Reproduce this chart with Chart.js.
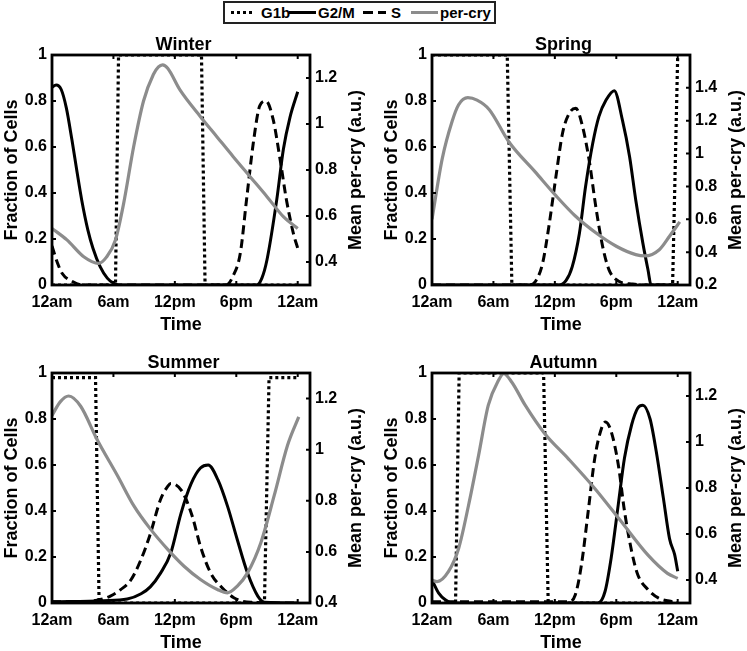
<!DOCTYPE html>
<html>
<head>
<meta charset="utf-8">
<script src="https://cdn.jsdelivr.net/npm/chart.js@4.4.1/dist/chart.umd.min.js"></script>
<style>
  html, body { margin:0; padding:0; background:#fff; }
  body { width:747px; height:651px; overflow:hidden; position:relative; font-family:"Liberation Sans", Arial, sans-serif; }
  canvas { position:absolute; }
  #legend { position:absolute; left:223px; top:1px; width:269px; height:19px; border:2px solid #222; background:#fff; }
  #legend .s { position:absolute; top:8px; height:3px; }
  #legend .t { position:absolute; top:1px; font-weight:bold; font-size:15px; line-height:17px; color:#000; white-space:nowrap; }
</style>
</head>
<body>
<div id="legend">
  <div class="s" style="left:6px;width:22px;background:repeating-linear-gradient(90deg,#000 0 3px,transparent 3px 6px);"></div>
  <div class="t" style="left:36px;">G1b</div>
  <div class="s" style="left:64px;width:27px;background:#000;"></div>
  <div class="t" style="left:93px;">G2/M</div>
  <div class="s" style="left:138px;width:23px;background:repeating-linear-gradient(90deg,#000 0 10px,transparent 10px 15px);"></div>
  <div class="t" style="left:166px;">S</div>
  <div class="s" style="left:186px;width:27px;background:#8c8c8c;"></div>
  <div class="t" style="left:215px;">per-cry</div>
</div>
<canvas id="winter" width="367" height="304" style="left:0px;top:30px;"></canvas>
<canvas id="spring" width="367" height="304" style="left:380px;top:30px;"></canvas>
<canvas id="summer" width="367" height="304" style="left:0px;top:348px;"></canvas>
<canvas id="autumn" width="367" height="304" style="left:380px;top:348px;"></canvas>
<script>
// ---- axis ticks / labels ----
const timeTicks = [0, 6, 12, 18, 24];
const timeLabels = ['12am', '6am', '12pm', '6pm', '12am'];
const fractionTicks = [0, 0.2, 0.4, 0.6, 0.8, 1];
const winterRightTicks = [0.4, 0.6, 0.8, 1, 1.2];
const springRightTicks = [0.2, 0.4, 0.6, 0.8, 1, 1.2, 1.4];
const summerRightTicks = [0.4, 0.6, 0.8, 1, 1.2];
const autumnRightTicks = [0.4, 0.6, 0.8, 1, 1.2];
const winterRightRange = [0.3, 1.3];
const springRightRange = [0.2, 1.6];
const summerRightRange = [0.4, 1.3];
const autumnRightRange = [0.3, 1.3];

// ---- data: [hour, value] ----
const winterG1b = [[0,0],[6.2,0],[6.5,1],[14.6,1],[14.95,0],[24,0]];
const winterG2M = [[0,0.86],[0.4,0.87],[0.9,0.85],[1.4,0.77],[1.95,0.63],[2.45,0.49],[2.9,0.37],[3.5,0.24],[4,0.16],[4.7,0.08],[5.4,0.03],[6,0.008],[6.5,0],[20,0],[20.5,0.03],[21,0.11],[21.95,0.37],[22.6,0.59],[23.25,0.73],[24,0.84]];
const winterS = [[0,0.17],[0.5,0.1],[1,0.05],[2,0.015],[3,0],[17,0],[17.7,0.04],[18.4,0.14],[19,0.37],[19.7,0.63],[20.3,0.78],[20.9,0.8],[21.6,0.72],[22.3,0.54],[22.9,0.37],[23.6,0.22],[24,0.16]];
const winterPerCry = [[0,0.546],[1.46,0.496],[3.1,0.423],[4.55,0.394],[5.3,0.42],[6.2,0.496],[7,0.655],[7.97,0.9],[8.94,1.1],[9.9,1.215],[10.4,1.248],[10.8,1.257],[11.3,1.242],[12.5,1.148],[14.5,1.032],[16.1,0.945],[17.7,0.858],[19.35,0.771],[21,0.684],[22.6,0.597],[24,0.546]];

const springG1b = [[0,1],[7.35,1],[7.8,0],[23.5,0],[24,1]];
const springG2M = [[0,0],[12.4,0],[13.1,0.02],[13.7,0.08],[14.4,0.225],[15,0.428],[15.7,0.616],[16.3,0.732],[17,0.804],[17.8,0.845],[18.6,0.717],[19.3,0.558],[19.9,0.37],[20.6,0.181],[21.1,0.065],[21.4,0],[24,0]];
const springS = [[0,0],[9.5,0],[10.1,0.015],[10.8,0.094],[11.4,0.25],[12.1,0.47],[12.75,0.66],[13.4,0.746],[14.05,0.768],[14.7,0.69],[15.36,0.54],[16,0.34],[16.67,0.167],[17.3,0.065],[18.3,0.015],[19.6,0.004],[20.5,0],[24,0]];
const springPerCry = [[0,0.6],[1,0.969],[1.96,1.195],[2.6,1.297],[3.5,1.34],[4.4,1.325],[5.6,1.267],[7.5,1.072],[10.1,0.887],[12.1,0.744],[14,0.62],[16,0.518],[18,0.436],[19.9,0.385],[20.8,0.377],[22.2,0.415],[23.2,0.497],[24.2,0.584]];

const summerG1b = [[0,0.98],[4.25,0.98],[4.6,0],[20.75,0],[21.2,0.98],[24.1,0.98]];
const summerG2M = [[0,0.005],[5,0.01],[7.35,0.017],[8.7,0.04],[9.6,0.07],[10.6,0.13],[11.6,0.217],[12.6,0.39],[13.6,0.52],[14.5,0.587],[15.26,0.6],[16.2,0.536],[17.15,0.42],[18.1,0.275],[19.1,0.13],[20.1,0.03],[20.75,0.003],[24,0]];
const summerS = [[0,0.005],[3,0.005],[4.7,0.015],[5.7,0.03],[6.7,0.058],[7.7,0.1],[8.7,0.19],[9.6,0.3],[10.6,0.45],[11.3,0.507],[11.6,0.52],[12.7,0.486],[13.7,0.377],[14.5,0.246],[15.5,0.13],[16.5,0.072],[17.8,0.022],[19.4,0.003],[24,0]];
const summerPerCry = [[0,1.134],[0.8,1.187],[1.63,1.21],[2.8,1.17],[4.4,1.04],[6.4,0.898],[8,0.78],[9.6,0.69],[11.3,0.61],[12.9,0.544],[14.5,0.492],[16.2,0.452],[17.15,0.44],[18.1,0.466],[19.1,0.518],[20.4,0.636],[21.7,0.82],[23,1.016],[24.1,1.128]];

const autumnG1b = [[0,0],[2.3,0],[2.65,1],[10.9,1],[11.35,0],[24,0]];
const autumnG2M = [[0,0.1],[0.65,0.043],[1.3,0.014],[2,0],[16.2,0],[16.9,0.05],[17.5,0.196],[18.2,0.43],[18.8,0.63],[19.5,0.775],[20.1,0.848],[20.6,0.86],[21.3,0.8],[21.9,0.66],[22.6,0.456],[23.2,0.28],[23.7,0.21],[24,0.138]];
const autumnS = [[0,0.005],[13.3,0.005],[14,0.036],[14.6,0.167],[15.26,0.4],[15.9,0.63],[16.56,0.76],[16.95,0.787],[17.5,0.746],[18.2,0.6],[18.8,0.4],[19.5,0.225],[20.1,0.123],[21.1,0.058],[22.1,0.022],[23.4,0.007],[24,0.005]];
const autumnPerCry = [[0,0.4],[0.5,0.393],[1.6,0.436],[2.6,0.537],[3.57,0.725],[4.55,0.942],[5.5,1.16],[6.5,1.268],[7,1.297],[7.8,1.26],[9.1,1.16],[11,1.037],[13.3,0.928],[15.9,0.798],[18.5,0.653],[21.1,0.508],[23,0.429],[24,0.407]];

const FONT = '"Liberation Sans", Arial, sans-serif';
const GREY = '#8c8c8c';

function pts(pairs) { return pairs.map(([x, y]) => ({ x, y })); }

function makeChart(id, title, g1b, g2m, s, perCry, rightRange, rightTicks) {
  const framePlugin = {
    id: 'frame_' + id,
    afterDatasetsDraw(chart) {
      const { ctx, chartArea: { left, right, top, bottom }, scales } = chart;
      ctx.save();
      ctx.strokeStyle = '#000';
      ctx.lineWidth = 2;
      const tl = 4;
      ctx.beginPath();
      scales.x.ticks.forEach(t => {
        const px = scales.x.getPixelForValue(t.value);
        ctx.moveTo(px, bottom); ctx.lineTo(px, bottom - tl);
        ctx.moveTo(px, top); ctx.lineTo(px, top + tl);
      });
      scales.y.ticks.forEach(t => {
        const py = scales.y.getPixelForValue(t.value);
        ctx.moveTo(left, py); ctx.lineTo(left + tl, py);
      });
      scales.y2.ticks.forEach(t => {
        const py = scales.y2.getPixelForValue(t.value);
        ctx.moveTo(right, py); ctx.lineTo(right - tl, py);
      });
      ctx.stroke();
      ctx.lineWidth = 2.8;
      ctx.strokeRect(left, top, right - left, bottom - top);
      ctx.translate(right + 46, (top + bottom) / 2);
      ctx.rotate(-Math.PI / 2);
      ctx.font = 'bold 18px ' + FONT;
      ctx.fillStyle = '#000';
      ctx.textAlign = 'center';
      ctx.textBaseline = 'middle';
      ctx.fillText('Mean per-cry (a.u.)', 0, 0);
      ctx.restore();
    }
  };

  return new Chart(document.getElementById(id), {
    type: 'line',
    data: {
      datasets: [
        { label: 'per-cry', data: pts(perCry), yAxisID: 'y2', borderColor: GREY, borderWidth: 3.2, cubicInterpolationMode: 'monotone', order: 0 },
        { label: 'G2/M', data: pts(g2m), yAxisID: 'y', borderColor: '#000', borderWidth: 3, cubicInterpolationMode: 'monotone', order: 1 },
        { label: 'S', data: pts(s), yAxisID: 'y', borderColor: '#000', borderWidth: 3, borderDash: [9, 5], cubicInterpolationMode: 'monotone', order: 2 },
        { label: 'G1b', data: pts(g1b), yAxisID: 'y', borderColor: '#000', borderWidth: 3.2, borderDash: [3, 3], tension: 0, order: 3 }
      ]
    },
    options: {
      responsive: false,
      animation: false,
      devicePixelRatio: 1,
      events: [],
      elements: { point: { radius: 0 }, line: { borderCapStyle: 'butt', fill: false } },
      layout: { padding: 0 },
      plugins: {
        legend: { display: false },
        tooltip: { enabled: false },
        title: {
          display: true, text: title, color: '#000',
          font: { family: FONT, size: 18, weight: 'bold', lineHeight: 1 },
          padding: { top: 6, bottom: 1 }
        }
      },
      scales: {
        x: {
          type: 'linear', position: 'bottom', min: 0, max: 25.2,
          afterBuildTicks: sc => { sc.ticks = timeTicks.map(v => ({ value: v })); },
          afterFit: sc => { sc.height = 49; },
          grid: { display: false, drawTicks: false },
          border: { display: false },
          ticks: {
            autoSkip: false, maxRotation: 0, padding: 8, color: '#000',
            font: { family: FONT, size: 16, weight: 'bold' },
            callback: v => timeLabels[timeTicks.indexOf(v)]
          },
          title: { display: true, text: 'Time', color: '#000', font: { family: FONT, size: 18, weight: 'bold', lineHeight: 1 }, padding: { top: 0, bottom: 0 } }
        },
        y: {
          position: 'left', min: 0, max: 1,
          afterBuildTicks: sc => { sc.ticks = fractionTicks.map(v => ({ value: v })); },
          afterFit: sc => { sc.width = 52; },
          grid: { display: false, drawTicks: false },
          border: { display: false },
          ticks: { padding: 5, color: '#000', font: { family: FONT, size: 16, weight: 'bold' }, callback: v => String(v) },
          title: { display: true, text: 'Fraction of Cells', color: '#000', font: { family: FONT, size: 18, weight: 'bold', lineHeight: 1 }, padding: { top: 3, bottom: 0 } }
        },
        y2: {
          position: 'right', min: rightRange[0], max: rightRange[1],
          afterBuildTicks: sc => { sc.ticks = rightTicks.map(v => ({ value: v })); },
          afterFit: sc => { sc.width = 57; },
          grid: { display: false, drawTicks: false },
          border: { display: false },
          ticks: { padding: 5, color: '#000', font: { family: FONT, size: 16, weight: 'bold' }, callback: v => String(v) },
          title: { display: false }
        }
      }
    },
    plugins: [framePlugin]
  });
}

makeChart('winter', 'Winter', winterG1b, winterG2M, winterS, winterPerCry, winterRightRange, winterRightTicks);
makeChart('spring', 'Spring', springG1b, springG2M, springS, springPerCry, springRightRange, springRightTicks);
makeChart('summer', 'Summer', summerG1b, summerG2M, summerS, summerPerCry, summerRightRange, summerRightTicks);
makeChart('autumn', 'Autumn', autumnG1b, autumnG2M, autumnS, autumnPerCry, autumnRightRange, autumnRightTicks);
</script>
</body>
</html>
